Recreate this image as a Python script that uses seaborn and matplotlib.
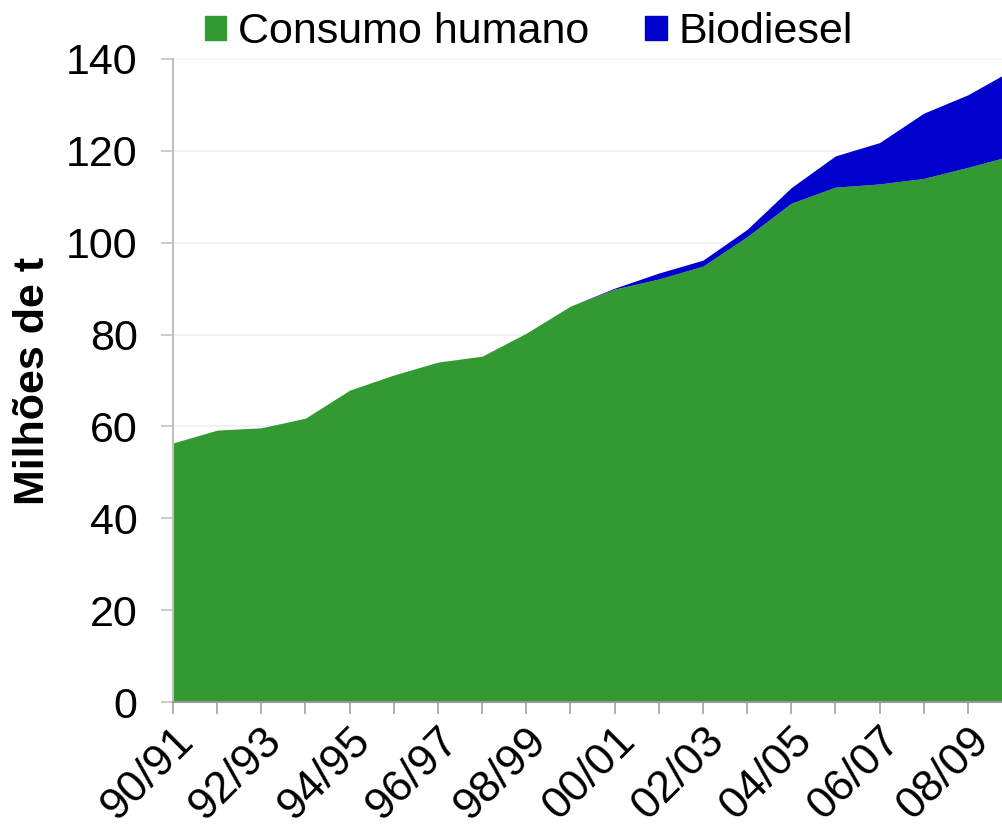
import matplotlib
matplotlib.use("Agg")
import matplotlib.pyplot as plt
import matplotlib.transforms as mtransforms
import seaborn as sns
from matplotlib.patches import Patch

# Data (million tonnes)
safras = ['90/91', '91/92', '92/93', '93/94', '94/95', '95/96', '96/97', '97/98',
          '98/99', '99/00', '00/01', '01/02', '02/03', '03/04', '04/05', '05/06',
          '06/07', '07/08', '08/09', '09/10']
consumo_humano = [56.4, 59.2, 59.7, 61.8, 67.9, 71.2, 74.0, 75.3, 80.3, 86.2,
                  89.9, 92.1, 94.9, 101.3, 108.6, 112.1, 112.8, 114.0, 116.4, 119.0]
biodiesel = [0, 0, 0, 0, 0, 0, 0, 0, 0, 0,
             0.2, 1.3, 1.3, 1.6, 3.4, 6.8, 9.0, 14.2, 15.8, 18.6]

verde = '#339933'
azul = '#0000CC'

sns.set_theme(style="white")
plt.rcParams['font.family'] = ['Liberation Sans', 'DejaVu Sans']
plt.rcParams['text.color'] = 'black'
plt.rcParams['xtick.labelcolor'] = 'black'
plt.rcParams['ytick.labelcolor'] = 'black'
plt.rcParams['axes.labelcolor'] = 'black'

fig = plt.figure(figsize=(10.03, 8.26), dpi=100)
ax = fig.add_axes([173 / 1003, 124 / 826, (1012 - 173) / 1003, 643 / 826])

x = list(range(len(safras)))
ax.stackplot(x, consumo_humano, biodiesel, colors=[verde, azul], linewidth=0)

ax.set_xlim(0, len(safras) - 1)
ax.set_ylim(0, 140)
ax.set_yticks(range(0, 141, 20))
ax.yaxis.grid(True, color='#f0f0f0', linewidth=1.3)
ax.set_axisbelow(True)

ax.set_xticks(x)
ax.set_xticklabels([s if i % 2 == 0 else '' for i, s in enumerate(safras)],
                   rotation=45, ha='right', va='top', rotation_mode='anchor')
offset = mtransforms.ScaledTranslation(-11 / 100, 0, fig.dpi_scale_trans)
for lbl in ax.get_xticklabels():
    lbl.set_transform(lbl.get_transform() + offset)

for side in ['top', 'right']:
    ax.spines[side].set_visible(False)
ax.spines['left'].set_color('#bfbfbf')
ax.spines['left'].set_linewidth(1.5)
ax.spines['bottom'].set_color('#999999')
ax.spines['bottom'].set_linewidth(1.5)

ax.tick_params(axis='y', direction='out', length=8.5, width=1.1, color='#bfbfbf',
               labelsize=31, pad=17, left=True)
ax.tick_params(axis='x', direction='out', length=8.5, width=1.1, color='#999999',
               labelsize=32, pad=4, bottom=True)

ax.set_ylabel('Milhões de t', fontsize=31, fontweight='bold', labelpad=9)

handles = [Patch(color=verde, label='Consumo humano'), Patch(color=azul, label='Biodiesel')]
fig.legend(handles=handles, loc='center', bbox_to_anchor=(0.527, 0.961), ncol=2,
           frameon=False, fontsize=31, handlelength=0.5, handleheight=0.5,
           handletextpad=0.27, columnspacing=1.3)

fig.savefig('out.png', dpi=100)
